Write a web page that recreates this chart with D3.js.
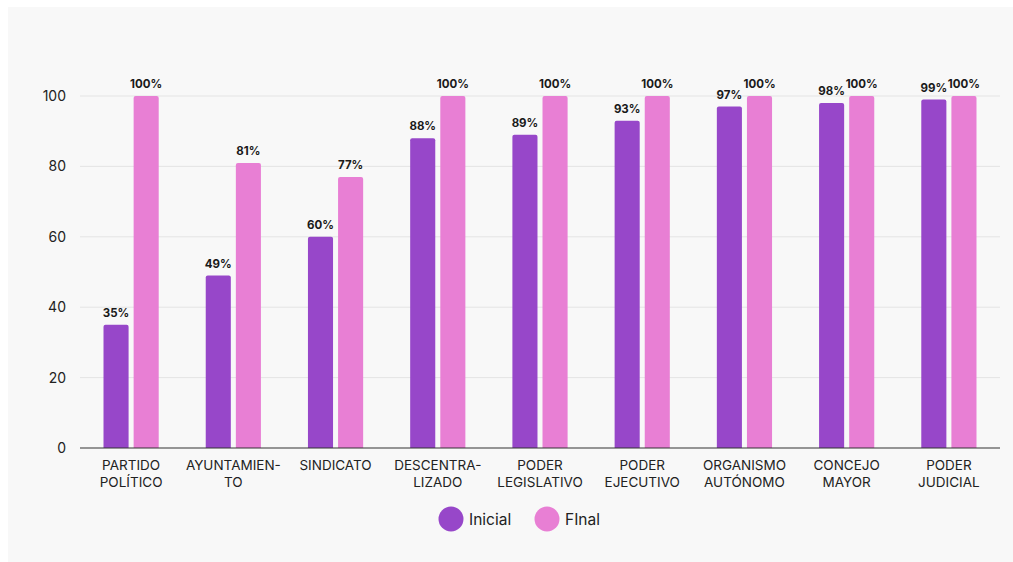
<!DOCTYPE html>
<html><head><meta charset="utf-8">
<script src="https://cdn.jsdelivr.net/npm/d3@7"></script>
<style>
html,body{margin:0;padding:0;background:#fff;}
svg{display:block;font-family:Inter,"Noto Sans",sans-serif;}
</style></head>
<body>
<svg id="chart" width="1013" height="562"></svg>
<script>
const categories = [["PARTIDO","POLÍTICO"],["AYUNTAMIEN-","TO"],["SINDICATO"],["DESCENTRA-","LIZADO"],["PODER","LEGISLATIVO"],["PODER","EJECUTIVO"],["ORGANISMO","AUTÓNOMO"],["CONCEJO","MAYOR"],["PODER","JUDICIAL"]];
const inicial = [35,49,60,88,89,93,97,98,99];
const finalV = [100,81,77,100,100,100,100,100,100];
const seriesNames = ["Inicial","FInal"];
const colors = ["#9747c9","#e87fd4"];
const yTicks = [0,20,40,60,80,100];

const svg = d3.select("#chart");
svg.append("rect").attr("x",8).attr("y",7).attr("width",1005).attr("height",555).attr("fill","#f8f8f8");

const x0 = d3.scaleBand().domain(d3.range(categories.length)).range([80,1000]).paddingInner(0.46).paddingOuter(0.23);
const x1 = d3.scaleBand().domain([0,1]).range([0,x0.bandwidth()]).paddingInner(0.167).paddingOuter(0);
const y = d3.scaleLinear().domain([0,100]).range([448,96]);

// grid
const yAxis = d3.axisLeft(y).tickValues(yTicks).tickSize(0).tickPadding(14);
const gy = svg.append("g").attr("transform","translate(80,0)").call(yAxis);
gy.select(".domain").remove();
gy.selectAll("text").attr("font-size",14).attr("fill","#222").attr("font-family","Inter");
svg.append("g").selectAll("line").data(yTicks.filter(d=>d>0)).join("line")
  .attr("x1",80).attr("x2",1000).attr("y1",d=>y(d)).attr("y2",d=>y(d))
  .attr("stroke","#e4e4e4").attr("stroke-width",1);

const data = categories.map((c,i)=>[inicial[i],finalV[i]]);
const groups = svg.append("g").selectAll("g").data(data).join("g")
  .attr("transform",(d,i)=>`translate(${x0(i)},0)`);
groups.selectAll("path").data(d=>d).join("path")
  .attr("fill",(d,j)=>colors[j])
  .attr("d",(d,j)=>{
    const bx=x1(j), bw=x1.bandwidth(), top=y(d), bot=y(0), r=2;
    return `M${bx},${bot}V${top+r}Q${bx},${top} ${bx+r},${top}H${bx+bw-r}Q${bx+bw},${top} ${bx+bw},${top+r}V${bot}Z`;
  });
groups.selectAll("text").data(d=>d).join("text")
  .attr("x",(d,j)=>x1(j)+x1.bandwidth()/2)
  .attr("y",d=>y(d)-8)
  .attr("text-anchor","middle")
  .attr("font-size",11.5).attr("font-weight",700).attr("fill","#1a1a1a")
  .text(d=>d+"%");

// baseline
svg.append("line").attr("x1",80).attr("x2",1000).attr("y1",y(0)).attr("y2",y(0)).attr("stroke","#333").attr("stroke-width",1.2);

// category labels
const lab = svg.append("g").selectAll("text").data(categories).join("text")
  .attr("x",(d,i)=>x0(i)+x0.bandwidth()/2)
  .attr("y",470)
  .attr("text-anchor","middle")
  .attr("font-size",13.5).attr("fill","#222");
lab.selectAll("tspan").data(d=>d).join("tspan")
  .attr("x",function(){return this.parentNode.getAttribute("x");})
  .attr("dy",(d,k)=>k===0?0:17)
  .text(d=>d);

// legend
const legX = [451,547];
const leg = svg.append("g").selectAll("g").data(seriesNames).join("g")
  .attr("transform",(d,i)=>`translate(${legX[i]},519)`);
leg.append("circle").attr("r",12.5).attr("fill",(d,i)=>colors[i]);
leg.append("text").attr("x",18).attr("y",5.5).attr("font-size",15.5).attr("fill","#222").text(d=>d);
</script>
</body></html>
